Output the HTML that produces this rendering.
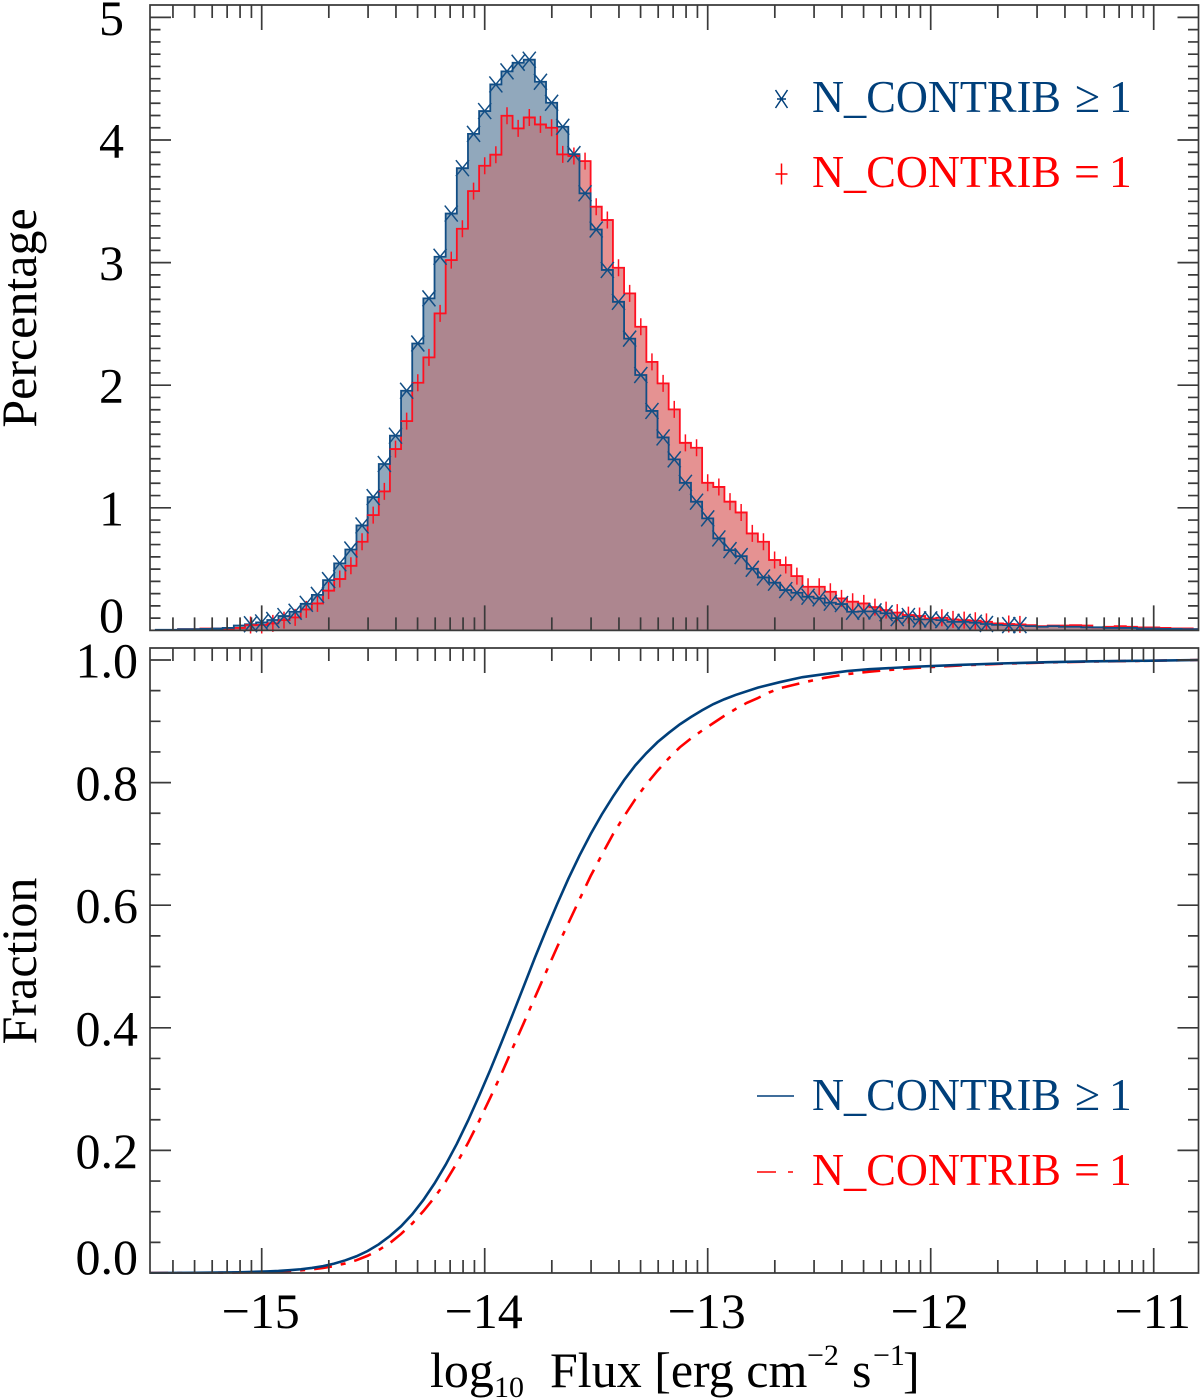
<!DOCTYPE html>
<html lang="en">
<head>
<meta charset="utf-8">
<title>Flux distribution</title>
<style>
html,body{margin:0;padding:0;background:#fff;}
svg{display:block;font-family:"Liberation Serif",serif;}
</style>
</head>
<body>
<svg id="chart" xmlns="http://www.w3.org/2000/svg" width="1200" height="1398" viewBox="0 0 1200 1398">
  <defs>
    <clipPath id="top-clip"><rect x="150" y="5" width="1049" height="626"/></clipPath>
    <clipPath id="bottom-clip"><rect x="150" y="648" width="1049" height="626"/></clipPath>
  </defs>
  <g id="hist-fills" clip-path="url(#top-clip)"></g>
  <g id="hist-lines" clip-path="url(#top-clip)"></g>
  <g id="hist-markers"></g>
  <g id="cdf-lines" clip-path="url(#bottom-clip)"></g>
  <g id="axes"></g>
  <g id="tick-labels" font-size="50" fill="#000"></g>

  <text font-size="50" text-anchor="middle" transform="translate(36,318) rotate(-90)">Percentage</text>
  <text font-size="50" text-anchor="middle" transform="translate(36,961) rotate(-90)">Fraction</text>

  <g fill="#000">
    <text x="430" y="1387" font-size="50">log</text>
    <text x="494" y="1397" font-size="30">10</text>
    <text x="550" y="1387" font-size="50">Flux [erg cm</text>
    <text x="807" y="1365" font-size="30">−2</text>
    <text x="852" y="1387" font-size="50">s</text>
    <text x="873" y="1365" font-size="30">−1</text>
    <text x="903" y="1387" font-size="50">]</text>
  </g>

  <g font-size="45.5">
    <g fill="#003f7a">
      <path d="M775.5 90L787.5 108M787.5 90L775.5 108M777 99H786" stroke="#003f7a" stroke-width="1.5" fill="none"/>
      <text x="812" y="112" textLength="249" lengthAdjust="spacingAndGlyphs">N_CONTRIB</text>
      <text x="1075" y="112" textLength="25" lengthAdjust="spacingAndGlyphs">≥</text>
      <text x="1109" y="112">1</text>
    </g>
    <g fill="#ff0000">
      <path d="M775.5 174H787.5M781.5 163.5V184.5" stroke="#ff0000" stroke-width="1.5" fill="none"/>
      <text x="812" y="187" textLength="249" lengthAdjust="spacingAndGlyphs">N_CONTRIB</text>
      <text x="1074" y="187" textLength="26" lengthAdjust="spacingAndGlyphs">=</text>
      <text x="1109" y="187">1</text>
    </g>
  </g>
  <g font-size="45.5">
    <g fill="#003f7a">
      <line x1="757" x2="794" y1="1096" y2="1096" stroke="#003f7a" stroke-width="1.6"/>
      <text x="812" y="1110" textLength="249" lengthAdjust="spacingAndGlyphs">N_CONTRIB</text>
      <text x="1075" y="1110" textLength="25" lengthAdjust="spacingAndGlyphs">≥</text>
      <text x="1109" y="1110">1</text>
    </g>
    <g fill="#ff0000">
      <path d="M757 1172H776M788 1172H793" stroke="#ff0000" stroke-width="1.6" fill="none"/>
      <text x="812" y="1185" textLength="249" lengthAdjust="spacingAndGlyphs">N_CONTRIB</text>
      <text x="1074" y="1185" textLength="26" lengthAdjust="spacingAndGlyphs">=</text>
      <text x="1109" y="1185">1</text>
    </g>
  </g>
</svg>
<script>
const fluxBins = [-15.5,-15.45,-15.4,-15.35,-15.3,-15.25,-15.2,-15.15,-15.1,-15.05,-15,-14.95,-14.9,-14.85,-14.8,-14.75,-14.7,-14.65,-14.6,-14.55,-14.5,-14.45,-14.4,-14.35,-14.3,-14.25,-14.2,-14.15,-14.1,-14.05,-14,-13.95,-13.9,-13.85,-13.8,-13.75,-13.7,-13.65,-13.6,-13.55,-13.5,-13.45,-13.4,-13.35,-13.3,-13.25,-13.2,-13.15,-13.1,-13.05,-13,-12.95,-12.9,-12.85,-12.8,-12.75,-12.7,-12.65,-12.6,-12.55,-12.5,-12.45,-12.4,-12.35,-12.3,-12.25,-12.2,-12.15,-12.1,-12.05,-12,-11.95,-11.9,-11.85,-11.8,-11.75,-11.7,-11.65,-11.6,-11.55,-11.5,-11.45,-11.4,-11.35,-11.3,-11.25,-11.2,-11.15,-11.1,-11.05,-11,-10.95,-10.9,-10.85,-10.8];
const percentAll = [0,0.005,0.005,0.01,0.01,0.012,0.015,0.02,0.04,0.05,0.065,0.085,0.117,0.152,0.217,0.29,0.41,0.547,0.66,0.856,1.087,1.357,1.588,1.955,2.34,2.708,3.048,3.4,3.77,4.05,4.236,4.453,4.56,4.63,4.655,4.475,4.304,4.108,3.885,3.565,3.27,2.94,2.68,2.38,2.083,1.79,1.574,1.395,1.204,1.05,0.914,0.75,0.655,0.606,0.503,0.432,0.389,0.329,0.307,0.275,0.261,0.226,0.215,0.152,0.155,0.155,0.14,0.1,0.117,0.09,0.09,0.084,0.07,0.07,0.063,0.052,0.045,0.043,0.043,0.035,0.03,0.035,0.03,0.03,0.025,0.025,0.02,0.02,0.02,0.015,0.015,0.012,0.012,0.01,0.01];
const percentSingle = [0,0,0,0.01,0.01,0.015,0.015,0.015,0.02,0.044,0.044,0.057,0.084,0.106,0.171,0.22,0.324,0.419,0.527,0.723,0.94,1.134,1.479,1.707,2.02,2.227,2.586,3.02,3.276,3.583,3.79,3.88,4.198,4.095,4.184,4.127,4.1,3.883,3.87,3.828,3.456,3.347,2.958,2.749,2.477,2.19,2.015,1.803,1.53,1.49,1.204,1.17,1.05,0.962,0.791,0.723,0.574,0.533,0.443,0.356,0.356,0.315,0.261,0.234,0.22,0.19,0.165,0.145,0.125,0.117,0.098,0.103,0.09,0.084,0.079,0.07,0.057,0.052,0.049,0.043,0.035,0.04,0.04,0.043,0.04,0.024,0.03,0.035,0.03,0.024,0.024,0.02,0.016,0.016,0.01];
const markerGapFlux = [-11.7];
const markerFirstFlux = -15.05;
const markerLastFlux = -11.6;

const cdfFluxAll = [-15.5,-15.3,-15.1,-14.975,-14.925,-14.875,-14.825,-14.775,-14.725,-14.675,-14.625,-14.575,-14.525,-14.475,-14.425,-14.375,-14.325,-14.275,-14.225,-14.175,-14.125,-14.075,-14.025,-13.975,-13.925,-13.875,-13.825,-13.775,-13.725,-13.675,-13.625,-13.575,-13.525,-13.475,-13.425,-13.375,-13.325,-13.275,-13.225,-13.175,-13.125,-13.075,-13.025,-12.975,-12.925,-12.875,-12.775,-12.675,-12.575,-12.475,-12.375,-12.275,-12.075,-11.875,-11.675,-11.475,-11.275,-11.075,-10.8];
const cdfAll = [0,0.0003,0.0012,0.0026,0.0034,0.0046,0.0061,0.0083,0.0112,0.0153,0.0207,0.0273,0.0359,0.0468,0.0603,0.0762,0.0958,0.1192,0.1462,0.1767,0.2107,0.2484,0.2889,0.3313,0.3758,0.4214,0.4677,0.5143,0.559,0.602,0.643,0.681,0.716,0.748,0.777,0.804,0.828,0.848,0.866,0.881,0.895,0.907,0.918,0.928,0.936,0.943,0.955,0.964,0.972,0.977,0.982,0.985,0.989,0.992,0.9945,0.9965,0.9978,0.9986,1];
const cdfFluxSingle = [-15.5,-15.3,-15.1,-15.025,-14.975,-14.925,-14.875,-14.825,-14.775,-14.725,-14.675,-14.625,-14.575,-14.525,-14.475,-14.425,-14.375,-14.325,-14.275,-14.225,-14.175,-14.125,-14.075,-14.025,-13.975,-13.925,-13.875,-13.825,-13.775,-13.725,-13.675,-13.625,-13.575,-13.525,-13.475,-13.425,-13.375,-13.325,-13.275,-13.225,-13.175,-13.125,-13.075,-13.025,-12.975,-12.925,-12.875,-12.825,-12.775,-12.725,-12.675,-12.575,-12.475,-12.375,-12.275,-12.075,-11.875,-11.675,-11.475,-11.275,-11.075,-10.8];
const cdfSingle = [0,0.0002,0.0008,0.0014,0.0018,0.0024,0.0032,0.0043,0.006,0.0082,0.0114,0.0156,0.0209,0.0281,0.0375,0.0489,0.0637,0.0807,0.1009,0.1232,0.1491,0.1793,0.212,0.248,0.286,0.3247,0.3667,0.4077,0.4495,0.4908,0.5318,0.5706,0.6093,0.6476,0.682,0.7156,0.745,0.7727,0.7975,0.8194,0.8395,0.8576,0.872,0.885,0.897,0.909,0.92,0.93,0.938,0.947,0.954,0.963,0.971,0.977,0.981,0.987,0.991,0.994,0.996,0.9975,0.9985,1];

const xTickLabels = ["−15","−14","−13","−12","−11"];
const xTickValues = [-15,-14,-13,-12,-11];
const xMinorLogs = [0.301,0.477,0.602,0.699,0.778,0.845,0.903,0.954];
const topTickValues = [0,1,2,3,4,5];
const topTickLabels = ["0","1","2","3","4","5"];
const bottomTickValues = [0,0.2,0.4,0.6,0.8,1];
const bottomTickLabels = ["0.0","0.2","0.4","0.6","0.8","1.0"];

const binHalf = 0.025;
const plotLeft = 150, plotRight = 1198.5;
const topTop = 5, topBottom = 630.4;
const botTop = 648, botBottom = 1273;
const NS = "http://www.w3.org/2000/svg";
function xScale(v){ return 261.7 + (v + 15) * 223; }
function yTop(v){ return 630.4 - v * 122.6; }
function yBot(v){ return 1273 - v * 613; }
function stepPath(values, closed){
  let d = "";
  fluxBins.forEach(function(f, i){
    const a = xScale(f - binHalf).toFixed(2), b = xScale(f + binHalf).toFixed(2), y = yTop(values[i]).toFixed(2);
    d += (i === 0 ? (closed ? "M" + a + " " + yTop(0) + "L" : "M") : "L") + a + " " + y + "L" + b + " " + y;
  });
  if (closed) { d += "L" + xScale(fluxBins[fluxBins.length - 1] + binHalf).toFixed(2) + " " + yTop(0) + "Z"; }
  return d;
}
function make(tag){ return document.createElementNS(NS, tag); }

const fills = document.getElementById("hist-fills");
const overlap = percentAll.map(function(v, i){ return Math.min(v, percentSingle[i]); });

const fillAll = make("path");


fillAll.setAttribute("d", stepPath(percentAll, true));
fillAll.setAttribute("fill", "#91a8bc");
fills.appendChild(fillAll);

const fillSingle = make("path");


fillSingle.setAttribute("d", stepPath(percentSingle, true));
fillSingle.setAttribute("fill", "#e59292");
fills.appendChild(fillSingle);

const fillOverlap = make("path");


fillOverlap.setAttribute("d", stepPath(overlap, true));
fillOverlap.setAttribute("fill", "#ad868f");
fills.appendChild(fillOverlap);

const lines = document.getElementById("hist-lines");
const lineSingle = make("path");


lineSingle.setAttribute("d", stepPath(percentSingle, false));
lineSingle.setAttribute("fill", "none");
lineSingle.setAttribute("stroke", "#ff1020");
lineSingle.setAttribute("stroke-width", "1.8");
lines.appendChild(lineSingle);

const lineAll = make("path");


lineAll.setAttribute("d", stepPath(percentAll, false));
lineAll.setAttribute("fill", "none");
lineAll.setAttribute("stroke", "#124e85");
lineAll.setAttribute("stroke-width", "1.8");
lines.appendChild(lineAll);

const markers = document.getElementById("hist-markers");
fluxBins.forEach(function(f, i){
  if (f < markerFirstFlux || f > markerLastFlux || markerGapFlux.indexOf(f) >= 0) { return; }
  const cx = xScale(f);
  const py = yTop(percentSingle[i]);
  const plus = make("path");
  
  
  plus.setAttribute("d", "M" + (cx - 6) + " " + py + "H" + (cx + 6) + "M" + cx + " " + (py - 8.5) + "V" + (py + 8.5));
  plus.setAttribute("stroke", "#ff1020");
  plus.setAttribute("stroke-width", "1.5");
  plus.setAttribute("fill", "none");
  markers.appendChild(plus);
});
fluxBins.forEach(function(f, i){
  if (f < markerFirstFlux || f > markerLastFlux || markerGapFlux.indexOf(f) >= 0) { return; }
  const cx = xScale(f);
  const by = yTop(percentAll[i]);
  const cross = make("path");
  
  
  cross.setAttribute("d", "M" + (cx - 6.5) + " " + (by - 8) + "L" + (cx + 6.5) + " " + (by + 8) + "M" + (cx + 6.5) + " " + (by - 8) + "L" + (cx - 6.5) + " " + (by + 8));
  cross.setAttribute("stroke", "#124e85");
  cross.setAttribute("stroke-width", "1.5");
  cross.setAttribute("fill", "none");
  markers.appendChild(cross);
});

function cdfPath(fluxes, values){
  return fluxes.map(function(f, i){ return (i ? "L" : "M") + xScale(f).toFixed(2) + " " + yBot(values[i]).toFixed(2); }).join("");
}
const cdfGroup = document.getElementById("cdf-lines");
const curveSingle = make("path");


curveSingle.setAttribute("d", cdfPath(cdfFluxSingle, cdfSingle));
curveSingle.setAttribute("fill", "none");
curveSingle.setAttribute("stroke", "#ff0000");
curveSingle.setAttribute("stroke-width", "2.6");
curveSingle.setAttribute("stroke-dasharray", "18 9 5 9");
cdfGroup.appendChild(curveSingle);

const curveAll = make("path");


curveAll.setAttribute("d", cdfPath(cdfFluxAll, cdfAll));
curveAll.setAttribute("fill", "none");
curveAll.setAttribute("stroke", "#003f7a");
curveAll.setAttribute("stroke-width", "2.6");
cdfGroup.appendChild(curveAll);

const axes = document.getElementById("axes");
function panelTicks(y0, y1, yScale, yMajor, yMinorStep){
  let d = "M" + plotLeft + " " + y0 + "H" + plotRight + "V" + y1 + "H" + plotLeft + "Z";
  xTickValues.forEach(function(v){
    const x = xScale(v);
    d += "M" + x + " " + y0 + "v25M" + x + " " + y1 + "v-25";
  });
  [-16,-15,-14,-13,-12,-11].forEach(function(dec){
    xMinorLogs.forEach(function(m){
      const x = xScale(dec + m);
      if (x > plotLeft && x < plotRight) { d += "M" + x.toFixed(2) + " " + y0 + "v13M" + x.toFixed(2) + " " + y1 + "v-13"; }
    });
  });
  yMajor.forEach(function(v){
    const y = yScale(v).toFixed(2);
    d += "M" + plotLeft + " " + y + "h21M" + plotRight + " " + y + "h-21";
  });
  for (let k = 0; k * yMinorStep <= yMajor[yMajor.length - 1] + 1e-9; k++) {
    const y = yScale(k * yMinorStep).toFixed(2);
    d += "M" + plotLeft + " " + y + "h10.5M" + plotRight + " " + y + "h-10.5";
  }
  return d;
}
const topAxes = make("path");


topAxes.setAttribute("d", panelTicks(topTop, topBottom, yTop, topTickValues, 0.1));
topAxes.setAttribute("fill", "none");
topAxes.setAttribute("stroke", "#3a3a3a");
topAxes.setAttribute("stroke-width", "1.7");
axes.appendChild(topAxes);

const botAxes = make("path");


botAxes.setAttribute("d", panelTicks(botTop, botBottom, yBot, bottomTickValues, 0.05));
botAxes.setAttribute("fill", "none");
botAxes.setAttribute("stroke", "#3a3a3a");
botAxes.setAttribute("stroke-width", "1.7");
axes.appendChild(botAxes);

const labels = document.getElementById("tick-labels");
topTickValues.forEach(function(v, i){
  const t = make("text");
  
  
  t.setAttribute("x", "124");
  t.setAttribute("y", Math.min(yTop(v) + 17.5, topBottom + 1.5).toFixed(1));
  t.setAttribute("text-anchor", "end");
  t.textContent = topTickLabels[i];
  labels.appendChild(t);
});
bottomTickValues.forEach(function(v, i){
  const t = make("text");
  
  
  t.setAttribute("x", "138");
  t.setAttribute("y", Math.min(yBot(v) + 17.5, botBottom + 1).toFixed(1));
  t.setAttribute("text-anchor", "end");
  t.textContent = bottomTickLabels[i];
  labels.appendChild(t);
});
xTickValues.forEach(function(v, i){
  const t = make("text");
  
  
  t.setAttribute("x", (xScale(v) - 1).toFixed(1));
  t.setAttribute("y", "1328");
  t.setAttribute("text-anchor", "middle");
  t.textContent = xTickLabels[i];
  labels.appendChild(t);
});
</script>
</body>
</html>
